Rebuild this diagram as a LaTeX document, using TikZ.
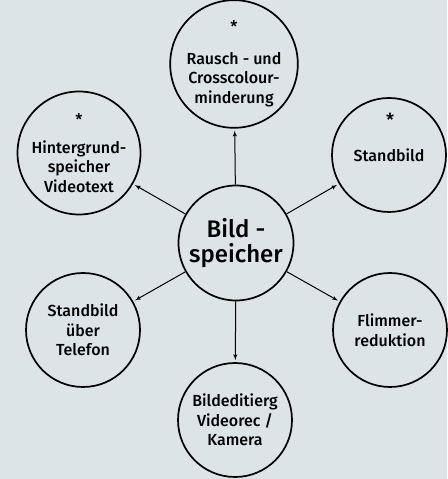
\documentclass[tikz,border=0pt]{standalone}
\usepackage{fontspec}
\setmainfont{Fira Sans Medium}
\usetikzlibrary{positioning, arrows}
\definecolor{paper}{RGB}{220,228,232}

\begin{document}
\begin{tikzpicture}[x=1pt, y=1pt, ->,>=latex', shorten >=2pt, line width=1pt, align=center,
  unit/.style={circle, draw, line width=1.7pt, minimum size=114pt, inner sep=0pt, font=\fontsize{16}{19.5}\selectfont},
  core/.style={unit, minimum size=115pt, font=\fontsize{24}{25}\selectfont},
  asterisk/.style={inner sep=0pt, font=\fontsize{18}{19.5}\selectfont}]
\fill[paper, -] (0,0) rectangle (447,479);
\useasboundingbox (0,0) rectangle (447,479);
\node[core] at (236,236) (bs) {Bild -\\speicher};
\node[unit] at (234,415) (rausch) {*\\[12pt]Rausch - und\\Crosscolour-\\minderung};
\node[unit] at (79,326) (hg) {*\\[8pt]Hintergrund-\\speicher\\Videotext};
\node[unit] at (389,324) (sb) {Standbild};
\node[asterisk] at (390,359) (sbstar) {*};
\node[unit] at (83,149) (tel) {Standbild\\über\\Telefon};
\node[unit] at (390,149) (fl) {Flimmer-\\reduktion};
\node[unit] at (235,59) (ed) {Bildeditierg\\Videorec /\\Kamera};
\draw (bs) edge (rausch);
\draw (bs) edge (hg);
\draw (bs) edge (sb);
\draw (bs) edge (tel);
\draw (bs) edge (fl);
\draw (bs) edge (ed);
\end{tikzpicture}
\end{document}
